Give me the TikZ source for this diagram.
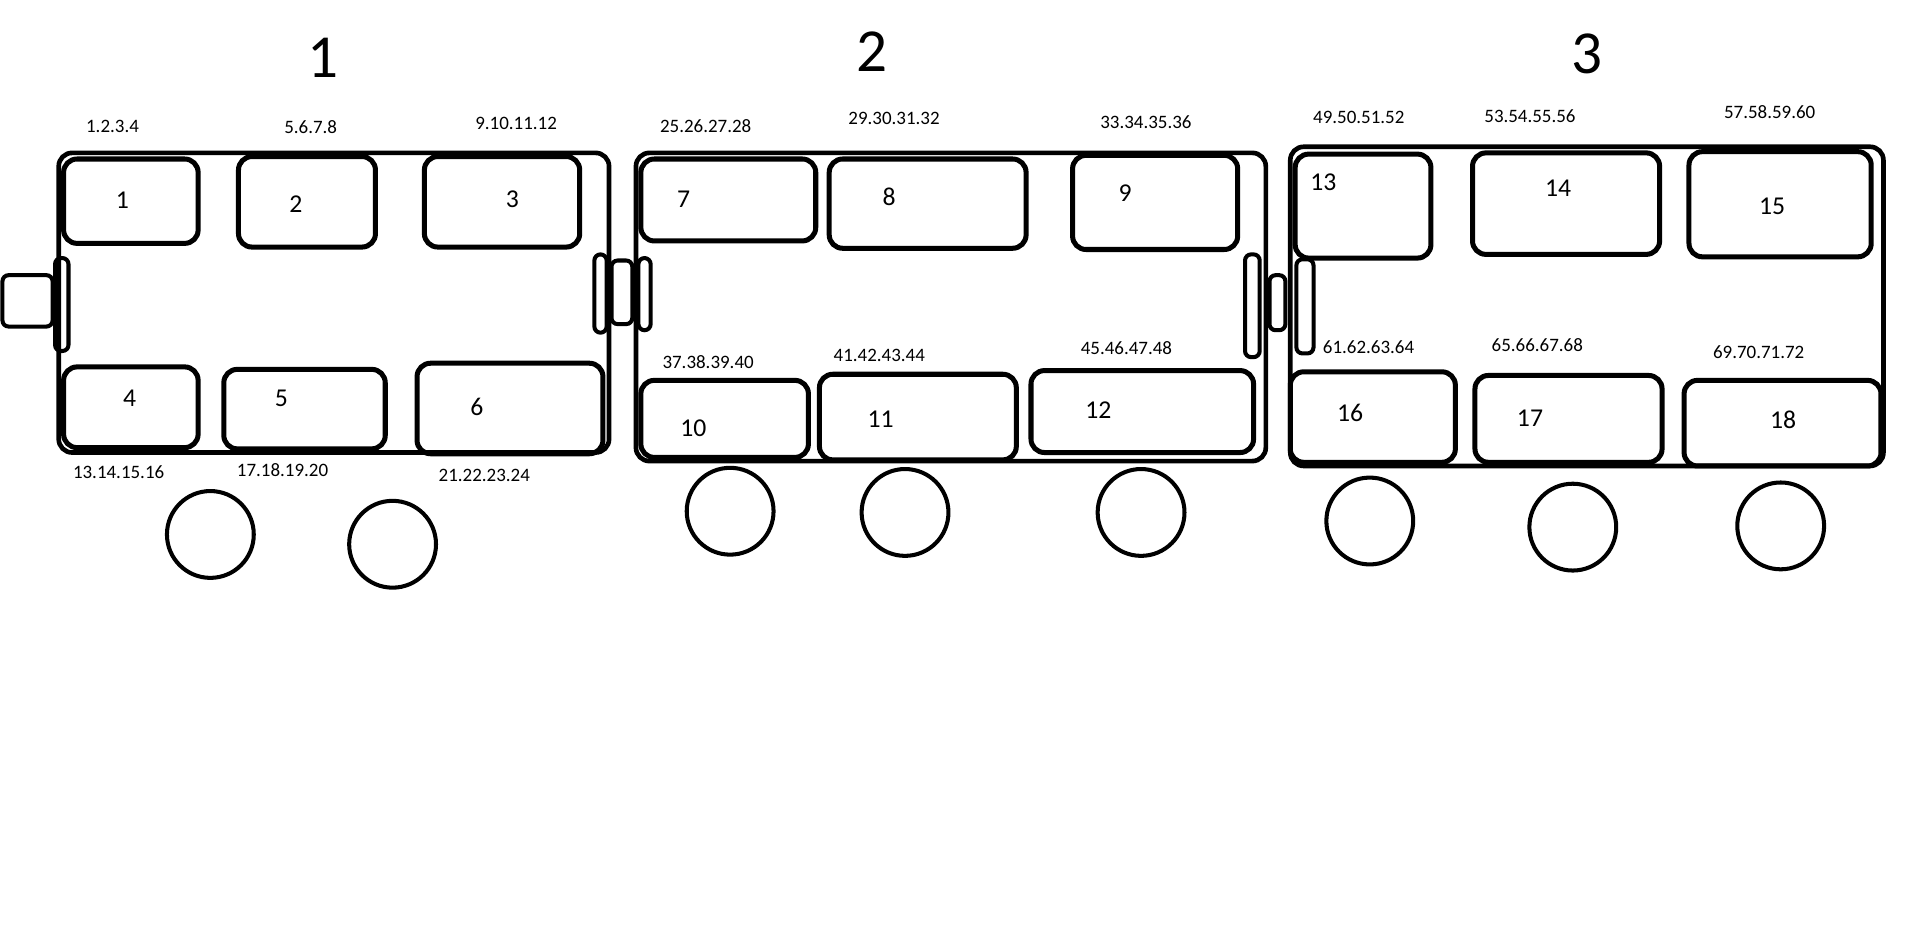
\documentclass[tikz,border=0pt]{standalone}
\usepackage{fontspec}
\setmainfont{Carlito}
\usetikzlibrary{fit}
\begin{document}
\begin{tikzpicture}[x=1pt,y=-1pt,
  body/.style={draw, line width=3.8pt, rounded corners=11pt, inner sep=0pt},
  seat/.style={draw, line width=4.1pt, rounded corners=11pt, inner sep=0pt},
  link/.style={draw, line width=3.3pt, rounded corners=5pt, inner sep=0pt},
  wheel/.style={draw, circle, line width=3.3pt, minimum size=71pt, inner sep=0pt},
  num/.style={inner sep=0pt, font=\fontsize{21}{25}\selectfont},
  lbl/.style={inner sep=0pt, font=\fontsize{15.5}{18}\selectfont},
  ttl/.style={inner sep=0pt, font=\fontsize{50}{60}\selectfont}]
\useasboundingbox (0,0) rectangle (1565,764);

% titles
\node[ttl] (t1) at (264,47) {1};
\node[ttl] (t2) at (713,42) {2};
\node[ttl] (t3) at (1298,44) {3};

% car bodies
\node[body, fit={(48,125) (498,370)}] (car1) {};
\node[body, fit={(520,125) (1035,377)}] (car2) {};
\node[body, fit={(1055,120) (1540,381)}] (car3) {};

% couplers
\node[link, fit={(2,225) (43,267)}] (k1) {};
\node[link, fit={(45,211) (56,287)}] (k2) {};
\node[link, fit={(486,208) (496,272)}] (k3) {};
\node[link, fit={(500,213) (517,265)}] (k4) {};
\node[link, fit={(522,211) (532,270)}] (k5) {};
\node[link, fit={(1018,208) (1030,292)}] (k6) {};
\node[link, fit={(1038,225) (1051,270)}] (k7) {};
\node[link, fit={(1060,212) (1074,289)}] (k8) {};

% car 1 seats
\node[seat, fit={(52,130) (162,199)}] (s1) {};
\node[seat, fit={(195,128) (307,202)}] (s2) {};
\node[seat, fit={(347,128) (474,202)}] (s3) {};
\node[seat, fit={(52,300) (162,366)}] (s4) {};
\node[seat, fit={(183,302) (315,367)}] (s5) {};
\node[seat, fit={(341,297) (493,371)}] (s6) {};
\node[num] (n1) at (100,164) {1};
\node[num] (n2) at (242,167) {2};
\node[num] (n3) at (419,163) {3};
\node[num] (n4) at (106,326) {4};
\node[num] (n5) at (230,326) {5};
\node[num] (n6) at (390,333) {6};
\node[lbl] (l1) at (92,103) {1.2.3.4};
\node[lbl] (l2) at (254,104) {5.6.7.8};
\node[lbl] (l3) at (422,101) {9.10.11.12};
\node[lbl] (l4) at (97,386) {13.14.15.16};
\node[lbl] (l5) at (231,384) {17.18.19.20};
\node[lbl] (l6) at (396,389) {21.22.23.24};

% car 2 seats
\node[seat, fit={(524,130) (667,197)}] (s7) {};
\node[seat, fit={(678,130) (839,203)}] (s8) {};
\node[seat, fit={(877,127) (1012,204)}] (s9) {};
\node[seat, fit={(524,311) (661,374)}] (s10) {};
\node[seat, fit={(670,306) (831,376)}] (s11) {};
\node[seat, fit={(843,303) (1025,370)}] (s12) {};
\node[num] (n7) at (559,163) {7};
\node[num] (n8) at (727,161) {8};
\node[num] (n9) at (920,158) {9};
\node[num] (n10) at (567,350) {10};
\node[num] (n11) at (720,343) {11};
\node[num] (n12) at (898,335) {12};
\node[lbl] (l7) at (577,103) {25.26.27.28};
\node[lbl] (l8) at (731,97) {29.30.31.32};
\node[lbl] (l9) at (937,100) {33.34.35.36};
\node[lbl] (l10) at (579,296) {37.38.39.40};
\node[lbl] (l11) at (719,291) {41.42.43.44};
\node[lbl] (l12) at (921,285) {45.46.47.48};

% car 3 seats
\node[seat, fit={(1059,126) (1170,211)}] (s13) {};
\node[seat, fit={(1204,125) (1357,208)}] (s14) {};
\node[seat, fit={(1381,124) (1530,210)}] (s15) {};
\node[seat, fit={(1055,304) (1190,378)}] (s16) {};
\node[seat, fit={(1206,307) (1359,378)}] (s17) {};
\node[seat, fit={(1377,311) (1538,381)}] (s18) {};
\node[num] (n13) at (1082,149) {13};
\node[num] (n14) at (1274,154) {14};
\node[num] (n15) at (1449,169) {15};
\node[num] (n16) at (1104,338) {16};
\node[num] (n17) at (1251,342) {17};
\node[num] (n18) at (1458,343) {18};
\node[lbl] (l13) at (1111,96) {49.50.51.52};
\node[lbl] (l14) at (1251,95) {53.54.55.56};
\node[lbl] (l15) at (1447,92) {57.58.59.60};
\node[lbl] (l16) at (1119,284) {61.62.63.64};
\node[lbl] (l17) at (1257,282) {65.66.67.68};
\node[lbl] (l18) at (1438,288) {69.70.71.72};

% wheels
\node[wheel] (w1) at (172,437) {};
\node[wheel] (w2) at (321,445) {};
\node[wheel] (w3) at (597,418) {};
\node[wheel] (w4) at (740,419) {};
\node[wheel] (w5) at (933,419) {};
\node[wheel] (w6) at (1120,426) {};
\node[wheel] (w7) at (1286,431) {};
\node[wheel] (w8) at (1456,430) {};
\end{tikzpicture}
\end{document}
